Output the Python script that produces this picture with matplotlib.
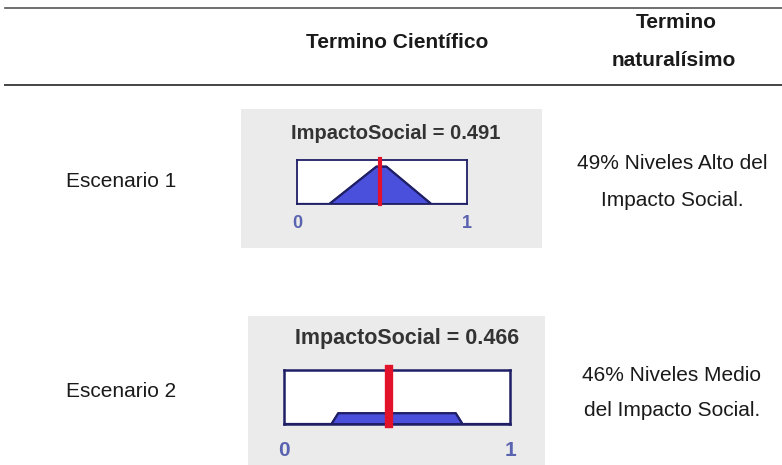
import matplotlib
matplotlib.use("Agg")
import matplotlib.pyplot as plt
from matplotlib.patches import Rectangle

plt.rcParams['font.family'] = ['Liberation Sans', 'DejaVu Sans']

# ---- data ----
headers = ["Termino Científico", "Termino\nnaturalísimo"]
scenarios = ["Escenario 1", "Escenario 2"]
outputs = [0.491, 0.466]
output_name = "ImpactoSocial"
descriptions = [["49% Niveles Alto del", "Impacto Social."],
                ["46% Niveles Medio", "del Impacto Social."]]
shape1_x = [0.0, 0.19, 0.467, 0.526, 0.79, 1.0]
shape1_y = [0.0, 0.0, 0.85, 0.85, 0.0, 0.0]
shape2_x = [0.0, 0.21, 0.24, 0.76, 0.79, 1.0]
shape2_y = [0.0, 0.0, 0.2, 0.2, 0.0, 0.0]
shapes_x = [shape1_x, shape2_x]
shapes_y = [shape1_y, shape2_y]
xticks = [0, 1]

W, H = 782, 465
fig = plt.figure(figsize=(W / 100, H / 100), dpi=100)
ax = fig.add_axes([0, 0, 1, 1])
ax.set_xlim(0, W)
ax.set_ylim(H, 0)
ax.axis('off')

txt_col = '#1a1a1a'
# rules
ax.plot([5, W], [8, 8], color='#555555', lw=1.2)
ax.plot([5, W], [85, 85], color='#444444', lw=1.4)

# headers
hfs = 15
ax.text(397, 42, headers[0], ha='center', va='center', fontsize=hfs,
        fontweight='bold', color=txt_col)
ax.text(676, 22, headers[1].split("\n")[0], ha='center', va='center',
        fontsize=hfs, fontweight='bold', color=txt_col)
ax.text(674, 60, headers[1].split("\n")[1], ha='center', va='center',
        fontsize=hfs, fontweight='bold', color=txt_col)

# layout per row
rows = [
    dict(ty=181, gbox=(241, 109, 542, 248), pbox=(297, 160, 467, 204),
         title=(396, 133, 14.5), ticks_y=223, tick_fs=13, red_lw=3.0, spine_lw=1.3,
         desc_y=(163, 200)),
    dict(ty=391, gbox=(248, 316, 545, 466), pbox=(284, 370, 510, 424),
         title=(407, 338, 15.5), ticks_y=450, tick_fs=15, red_lw=6.0, spine_lw=1.8,
         desc_y=(375, 410)),
]

blue_fill = '#4a4fdc'
navy = '#1f1f66'
red = '#e3122b'
tick_col = '#5a63b0'

for i, r in enumerate(rows):
    ax.text(121, r['ty'], scenarios[i], ha='center', va='center', fontsize=15,
            color=txt_col)
    for j, line in enumerate(descriptions[i]):
        ax.text(672, r['desc_y'][j], line, ha='center', va='center', fontsize=15,
                color=txt_col)
    gx0, gy0, gx1, gy1 = r['gbox']
    ax.add_patch(Rectangle((gx0, gy0), gx1 - gx0, gy1 - gy0,
                           facecolor='#ebebeb', edgecolor='none', zorder=0))
    tx, tyy, tfs = r['title']
    ax.text(tx, tyy, f"{output_name} = {outputs[i]:.3f}", ha='center', va='center',
            fontsize=tfs, fontweight='bold', color='#333333')
    px0, py0, px1, py1 = r['pbox']
    for t in xticks:
        xp = px0 + t * (px1 - px0)
        ax.text(xp, r['ticks_y'], str(t), ha='center', va='center',
                fontsize=r['tick_fs'], color=tick_col, fontweight='bold')
    ia = fig.add_axes([px0 / W, 1 - py1 / H, (px1 - px0) / W, (py1 - py0) / H])
    ia.set_xlim(0, 1)
    ia.set_ylim(0, 1)
    ia.set_facecolor('white')
    ia.set_xticks([])
    ia.set_yticks([])
    for s in ia.spines.values():
        s.set_color(navy)
        s.set_linewidth(r['spine_lw'])
    ia.fill(shapes_x[i], shapes_y[i], facecolor=blue_fill, edgecolor=navy,
            linewidth=1.2, zorder=2)
    ia.plot(shapes_x[i], shapes_y[i], color=navy, lw=1.6, zorder=3)
    ia.axvline(outputs[i], color=red, lw=r['red_lw'], zorder=4, clip_on=False,
               ymin=0, ymax=1.02)

fig.savefig("out.png", dpi=100)
